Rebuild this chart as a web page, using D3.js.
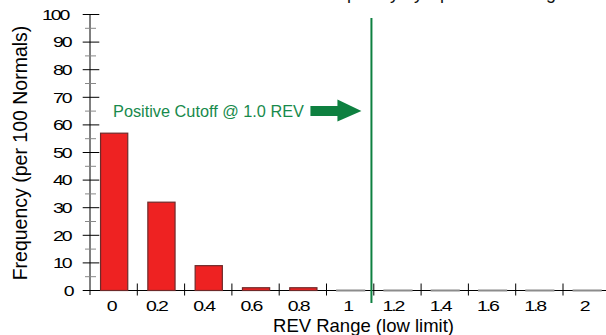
<!DOCTYPE html>
<html>
<head>
<meta charset="utf-8">
<script src="https://cdn.jsdelivr.net/npm/d3@7"></script>
<style>
  html, body { margin: 0; padding: 0; background: #ffffff; }
  svg { display: block; font-family: "Liberation Sans", Arial, sans-serif; }
</style>
</head>
<body>
<svg id="chart" width="606" height="335"></svg>
<script>
// ---- data ----
const categories = ["0", "0.2", "0.4", "0.6", "0.8", "1", "1.2", "1.4", "1.6", "1.8", "2"];
const frequency = [57, 32, 9, 1, 1, 0, 0, 0, 0, 0, 0];
const yTicks = [0, 10, 20, 30, 40, 50, 60, 70, 80, 90, 100];
const yMinorTicks = [5, 15, 25, 35, 45, 55, 65, 75, 85, 95];
const cutoffLineRev = 1.19;      // where the vertical cutoff line sits on the REV axis
const cutoffLabelFreq = 65;      // vertical position of the annotation (frequency units)
const cutoffLabel = "Positive Cutoff @ 1.0 REV";
const titleText = "Frequency by Specimen Range";
const xTitle = "REV Range (low limit)";
const yTitle = "Frequency (per 100 Normals)";

// ---- layout ----
const svg = d3.select("#chart");
const left = 90, bandW = 47.3;
const x = d3.scaleBand().domain(categories).range([left, left + categories.length * bandW]).padding(0);
const xLin = d3.scaleLinear().domain([0, categories.length * 0.2]).range([left, left + categories.length * bandW]);
const y = d3.scaleLinear().domain([0, 100]).range([290.5, 14.5]);

const green = "#0e8040";

// title (mostly cut off at the top edge, as in the source image)
svg.append("text").attr("x", 440).attr("y", -1.5).attr("text-anchor", "middle")
  .attr("font-size", 18).attr("fill", "#111").text(titleText);

// tick labels: wide glyphs, tight spacing
function wideLabel(g, str, anchorX, baseY, mode) {
  const t = g.append("text").attr("font-size", 15).attr("fill", "#000").text(str);
  const natural = t.node().getComputedTextLength() * 1.3;
  const startX = mode === "end" ? anchorX - natural : anchorX - natural / 2;
  t.attr("letter-spacing", -1.6)
   .attr("transform", `translate(${startX},${baseY}) scale(1.3,1)`);
}

// y axis
const gy = svg.append("g");
gy.append("line").attr("x1", left).attr("x2", left).attr("y1", y(100)).attr("y2", y(0) + 4.5)
  .attr("stroke", "#000").attr("stroke-width", 1);
gy.selectAll("line.maj").data(yTicks).join("line").attr("class", "maj")
  .attr("x1", 82.7).attr("x2", 99.3).attr("y1", d => y(d)).attr("y2", d => y(d))
  .attr("stroke", "#000").attr("stroke-width", 1);
gy.selectAll("line.min").data(yMinorTicks).join("line").attr("class", "min")
  .attr("x1", 85).attr("x2", 96).attr("y1", d => y(d)).attr("y2", d => y(d))
  .attr("stroke", "#888").attr("stroke-width", 1);
yTicks.forEach(v => wideLabel(gy, String(v), 74.6, y(v) + 5.3, "end"));

// x axis
const gx = svg.append("g");
gx.append("line").attr("x1", left).attr("x2", 606).attr("y1", y(0)).attr("y2", y(0))
  .attr("stroke", "#000").attr("stroke-width", 1);
const boundaries = categories.map(c => x(c)).slice(1).concat([x(categories[categories.length - 1]) + bandW]);
gx.selectAll("line.tk").data(boundaries).join("line").attr("class", "tk")
  .attr("x1", d => d).attr("x2", d => d).attr("y1", y(0) - 7).attr("y2", y(0) + 5)
  .attr("stroke", "#000").attr("stroke-width", 1);
categories.forEach(c => wideLabel(gx, c, x(c) + bandW / 2 - 1.5, 310.5, "middle"));

// bars (drawn over the axis, so empty bins show as grey dashes)
const barW = bandW * 0.575;
svg.append("g").selectAll("rect").data(frequency).join("rect")
  .attr("x", (d, i) => x(categories[i]) + (bandW - barW) / 2 + 0.5)
  .attr("y", d => d > 0 ? y(d) : y(0) - 0.01)
  .attr("width", barW)
  .attr("height", d => Math.max(y(0) - y(d), 0.01))
  .attr("fill", "#ee2222")
  .attr("stroke", d => d > 0 ? "#6e2a2a" : "#8c8c8c")
  .attr("stroke-width", d => d > 0 ? 1.2 : 2);

// axis titles
svg.append("text").attr("x", 363.5).attr("y", 331.5).attr("text-anchor", "middle")
  .attr("font-size", 18.5).attr("fill", "#000").text(xTitle);
svg.append("text").attr("transform", "translate(27,153) rotate(-90)").attr("text-anchor", "middle")
  .attr("font-size", 19.5).attr("fill", "#000").text(yTitle);

// cutoff line
const lx = xLin(cutoffLineRev);
svg.append("line").attr("x1", lx).attr("x2", lx).attr("y1", 18).attr("y2", 303)
  .attr("stroke", green).attr("stroke-width", 2);

// arrow + label
const ay = y(cutoffLabelFreq);
const tip = lx - 10, tail = tip - 51, headStart = tip - 24;
svg.append("path")
  .attr("d", `M${tail},${ay - 5}L${headStart},${ay - 5}L${headStart},${ay - 11.5}L${tip},${ay}L${headStart},${ay + 10.5}L${headStart},${ay + 5}L${tail},${ay + 5}Z`)
  .attr("fill", green);
svg.append("text").attr("x", tail - 6.5).attr("y", ay + 5.8).attr("text-anchor", "end")
  .attr("font-size", 16.3).attr("fill", "#188a4c").text(cutoffLabel);
</script>
</body>
</html>
